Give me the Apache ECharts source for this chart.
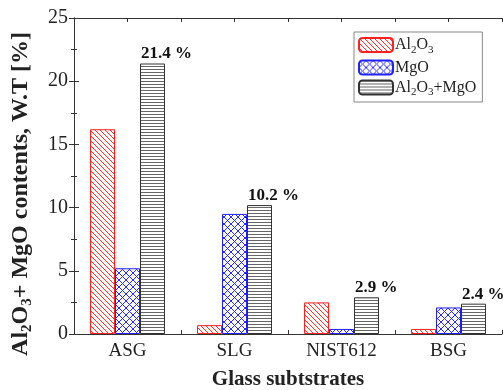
<!DOCTYPE html>
<html>
<head>
<meta charset="utf-8">
<script src="https://cdn.jsdelivr.net/npm/echarts@6/dist/echarts.min.js"></script>
<style>
  html, body { margin: 0; padding: 0; background: #fff; }
  #chart { width: 503px; height: 390px; }
</style>
</head>
<body>
<div id="chart"></div>
<script>
// data
var categories = ['ASG', 'SLG', 'NIST612', 'BSG'];
var al2o3 = [16.2, 0.7, 2.5, 0.4];
var mgo = [5.2, 9.5, 0.4, 2.1];
var total = [21.4, 10.2, 2.9, 2.4];

var serif = '"Liberation Serif", "DejaVu Serif", serif';

// hatch fills drawn on small canvases
function makePattern(kind) {
    var c = document.createElement('canvas');
    var ctx = c.getContext('2d');
    var s;
    if (kind === 'diag') {
        s = 5;
        c.width = s; c.height = s;
        ctx.fillStyle = '#fff';
        ctx.fillRect(0, 0, s, s);
        ctx.strokeStyle = '#ff3030';
        ctx.lineWidth = 1;
        for (var k = -1; k <= 1; k++) {
            ctx.beginPath();
            ctx.moveTo(k * s, 0);
            ctx.lineTo(k * s + s, s);
            ctx.stroke();
        }
    } else if (kind === 'cross') {
        s = 7;
        c.width = s; c.height = s;
        ctx.fillStyle = '#fff';
        ctx.fillRect(0, 0, s, s);
        ctx.strokeStyle = '#2a2aff';
        ctx.lineWidth = 1;
        for (var k = -1; k <= 1; k++) {
            ctx.beginPath();
            ctx.moveTo(k * s, 0);
            ctx.lineTo(k * s + s, s);
            ctx.stroke();
            ctx.beginPath();
            ctx.moveTo(k * s + s, 0);
            ctx.lineTo(k * s, s);
            ctx.stroke();
        }
    } else {
        c.width = 4; c.height = 3;
        ctx.fillStyle = '#fff';
        ctx.fillRect(0, 0, 4, 3);
        ctx.fillStyle = '#666';
        ctx.fillRect(0, 0, 4, 1);
    }
    return { image: c, repeat: 'repeat' };
}

var subRich = {
    n: { fontFamily: serif, fontSize: 16, color: '#222' },
    s: { fontFamily: serif, fontSize: 11, color: '#222', padding: [10, 0, 0, 0] }
};
var legendText = {
    'Al2O3': '{n|Al}{s|2}{n|O}{s|3}',
    'MgO': '{n|MgO}',
    'Al2O3+MgO': '{n|Al}{s|2}{n|O}{s|3}{n|+MgO}'
};

var chart = echarts.init(document.getElementById('chart'));
var option = {
    animation: false,
    grid: { left: 74, right: 1, top: 18, bottom: 56, outerBoundsMode: 'none' },
    legend: {
        orient: 'vertical',
        left: 354,
        top: 32,
        itemWidth: 34,
        itemHeight: 14,
        itemGap: 4,
        padding: [5, 6, 4, 4],
        borderColor: '#888',
        borderWidth: 1,
        backgroundColor: '#fff',
        formatter: function (name) { return legendText[name]; },
        textStyle: { rich: subRich, padding: [0, 0, 0, -3] },
        data: ['Al2O3', 'MgO', 'Al2O3+MgO']
    },
    xAxis: [{
        type: 'category',
        position: 'bottom',
        data: categories,
        axisLine: { lineStyle: { color: '#333' } },
        axisTick: { show: false },
        axisLabel: { fontFamily: serif, fontSize: 19, color: '#222', margin: 8 },
        name: 'Glass subtstrates',
        nameLocation: 'middle',
        nameGap: 35,
        nameTextStyle: { fontFamily: serif, fontSize: 21, fontWeight: 'bold', color: '#222' }
    }, {
        type: 'value',
        position: 'bottom',
        min: 0, max: 4, interval: 0.5,
        axisLine: { show: false },
        axisTick: { inside: true, length: 4, lineStyle: { color: '#333' } },
        axisLabel: { show: false },
        splitLine: { show: false }
    }, {
        type: 'value',
        position: 'top',
        min: 0, max: 4, interval: 0.5,
        axisLine: { show: true, lineStyle: { color: '#333' } },
        axisTick: { inside: true, length: 4, lineStyle: { color: '#333' } },
        axisLabel: { show: false },
        splitLine: { show: false }
    }],
    yAxis: [{
        type: 'value',
        min: 0, max: 25, interval: 5,
        axisLine: { show: true, lineStyle: { color: '#333' } },
        axisTick: { inside: true, length: 5, lineStyle: { color: '#333' } },
        minorTick: { show: true, splitNumber: 2, length: 3, lineStyle: { color: '#333' } },
        axisLabel: { fontFamily: serif, fontSize: 20, color: '#222', margin: 6 },
        splitLine: { show: false },
        name: '{b|Al}{s|2}{b|O}{s|3}{b|+ MgO contents, W.T [%]}',
        nameLocation: 'middle',
        nameGap: 39,
        nameTextStyle: {
            padding: [0, 36, 0, 0],
            rich: {
                b: { fontFamily: serif, fontSize: 24, fontWeight: 'bold', color: '#222' },
                s: { fontFamily: serif, fontSize: 15, fontWeight: 'bold', color: '#222', padding: [13, 0, 0, 0] }
            }
        }
    }, {
        type: 'value',
        position: 'right',
        min: 0, max: 25, interval: 5,
        axisLine: { show: true, lineStyle: { color: '#333' } },
        axisTick: { inside: true, length: 5, lineStyle: { color: '#333' } },
        minorTick: { show: true, splitNumber: 2, length: 3, lineStyle: { color: '#333' } },
        axisLabel: { show: false },
        splitLine: { show: false }
    }],
    series: [{
        name: 'Al2O3',
        type: 'bar',
        xAxisIndex: 0,
        barWidth: 25,
        barGap: 0,
        itemStyle: { color: makePattern('diag'), borderColor: '#ff2020', borderWidth: 1 },
        data: al2o3
    }, {
        name: 'MgO',
        type: 'bar',
        xAxisIndex: 0,
        barWidth: 25,
        barGap: 0,
        itemStyle: { color: makePattern('cross'), borderColor: '#2020ff', borderWidth: 1 },
        data: mgo
    }, {
        name: 'Al2O3+MgO',
        type: 'bar',
        xAxisIndex: 0,
        barWidth: 25,
        barGap: 0,
        itemStyle: { color: makePattern('horiz'), borderColor: '#333', borderWidth: 1 },
        label: {
            show: true,
            position: [1, -1],
            align: 'left',
            verticalAlign: 'bottom',
            formatter: '{c} %',
            fontFamily: serif,
            fontSize: 17,
            fontWeight: 'bold',
            color: '#111'
        },
        data: total
    }]
};
chart.setOption(option);
</script>
</body>
</html>
